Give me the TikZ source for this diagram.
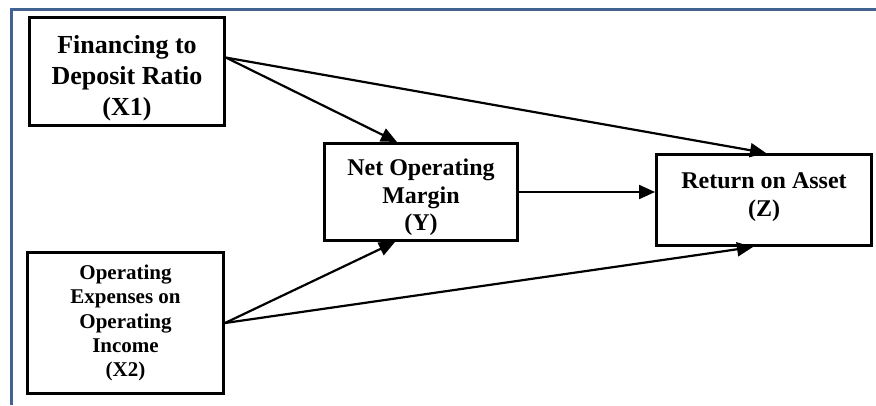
\documentclass[tikz,border=0pt]{standalone}
\usepackage{fontspec}
\setmainfont{Liberation Serif}
\usepackage{tikz}
\usetikzlibrary{arrows.meta}
\definecolor{frameblue}{RGB}{66,99,146}

\begin{document}
\begin{tikzpicture}[x=1pt,y=-1pt]
\tikzset{var/.style = {shape=rectangle,draw,line width=3pt,inner sep=0pt,align=center,font=\bfseries}}
\tikzset{edge/.style = {-{Triangle[length=16pt,width=14pt]},line width=2.2pt}}
\useasboundingbox (0,0) rectangle (876,405);
% frame
\draw[frameblue,line width=3pt] (11.5,405) -- (11.5,9) -- (876,9);
% vertices
\node[var,minimum width=195pt,minimum height=108pt,font=\bfseries\fontsize{26}{31}\selectfont] (x1) at (127,71.5) {\rule{0pt}{32pt}Financing to\\Deposit Ratio\\(X1)};
\node[var,minimum width=196pt,minimum height=141pt,font=\bfseries\fontsize{21}{24.3}\selectfont] (x2) at (125.5,323) {Operating\\Expenses on\\Operating\\Income\\(X2)};
\node[var,minimum width=193pt,minimum height=97pt,font=\bfseries\fontsize{24}{27.5}\selectfont] (y) at (421,192) {\rule{0pt}{28pt}Net Operating\\Margin\\(Y)};
\node[var,minimum width=215pt,minimum height=91pt,font=\bfseries\fontsize{24}{28}\selectfont] (z) at (764,200) {Return on Asset\\(Z)\rule[-11pt]{0pt}{11pt}};
%edges
\draw[edge] (x1.8) to ([xshift=-24pt]y.north);
\draw[edge] (x1.8) to ([xshift=2pt]z.north);
\draw[edge] (y.east) to (y.east -| z.west);
\draw[edge] (x2.east) to ([xshift=-26pt]y.south);
\draw[edge] (x2.east) to ([xshift=-11pt]z.south);
\end{tikzpicture}
\end{document}
